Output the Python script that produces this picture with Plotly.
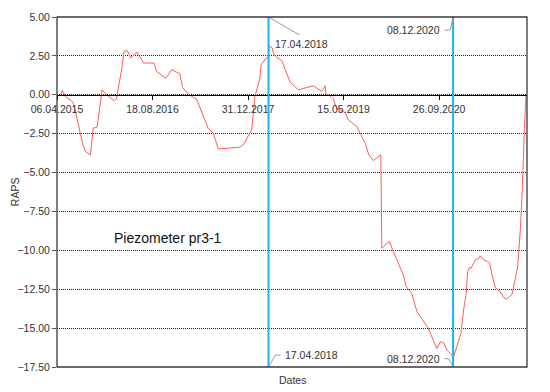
import plotly.graph_objects as go

# ---- data ----
dates = [
    "2015-04-25", "2015-05-04", "2015-05-25", "2015-06-26", "2015-07-03", "2015-08-03",
    "2015-08-20", "2015-09-03", "2015-09-28", "2015-10-12", "2015-11-02", "2015-11-28",
    "2015-12-21", "2016-02-02", "2016-02-11", "2016-03-09", "2016-03-22", "2016-04-09",
    "2016-04-26", "2016-05-29", "2016-07-03", "2016-07-26", "2016-08-26", "2016-09-08",
    "2016-10-27", "2016-11-26", "2017-01-08", "2017-01-22", "2017-02-12", "2017-02-26",
    "2017-04-06", "2017-05-02", "2017-06-05", "2017-07-02", "2017-07-28", "2017-11-19",
    "2017-12-06", "2018-01-19", "2018-02-05", "2018-03-03", "2018-03-09", "2018-04-07",
    "2018-04-16", "2018-04-21", "2018-05-07", "2018-05-12", "2018-06-02", "2018-06-25",
    "2018-08-08", "2018-09-20", "2018-12-08", "2019-01-21", "2019-02-07", "2019-02-11",
    "2019-03-11", "2019-03-23", "2019-04-09", "2019-05-23", "2019-06-09", "2019-07-23",
    "2019-08-10", "2019-09-05", "2019-09-24", "2019-10-18", "2019-11-26", "2019-12-01",
    "2019-12-18", "2020-01-10", "2020-01-31", "2020-02-26", "2020-03-23", "2020-04-07",
    "2020-05-06", "2020-06-02", "2020-07-06", "2020-08-01", "2020-08-19", "2020-09-14",
    "2020-10-02", "2020-10-19", "2020-11-06", "2020-12-02", "2020-12-08", "2021-01-18",
    "2021-02-01", "2021-02-15", "2021-02-22", "2021-03-04", "2021-03-12", "2021-04-03",
    "2021-04-21", "2021-04-30", "2021-05-14", "2021-06-17", "2021-06-30", "2021-07-17",
    "2021-08-12", "2021-08-30", "2021-09-16", "2021-10-13", "2021-10-30", "2021-11-11",
    "2021-11-25", "2021-12-04", "2021-12-16", "2021-12-25",
]
raps = [
    0.00, 0.28, -0.17, -0.43, -0.64, -2.36,
    -3.22, -3.65, -3.86, -2.15, -2.08, 0.32,
    0.00, -0.39, -0.28, 1.61, 2.79, 2.83,
    2.36, 2.75, 2.04, 2.04, 2.04, 1.50,
    1.07, 1.61, 1.35, 0.47, 0.21, 0.00,
    -0.28, -1.07, -2.15, -2.47, -3.48, -3.37,
    -3.22, -2.25, -0.11, 1.07, 1.93, 2.36,
    2.47, 3.15, 3.00, 2.68, 2.36, 2.21,
    0.82, 0.32, 0.58, 0.21, 0.58, 0.06,
    -0.11, -0.28, -0.92, -1.14, -1.61, -2.04,
    -2.47, -3.11, -3.86, -4.23, -3.86, -9.87,
    -9.66, -9.44, -10.09, -10.84, -11.59, -12.34,
    -12.77, -13.95, -14.60, -15.02, -15.56, -16.31,
    -15.88, -15.92, -16.42, -16.74, -16.95, -15.35,
    -13.84, -12.77, -11.38, -11.10, -11.16, -10.63,
    -10.52, -10.37, -10.58, -10.80, -11.59, -12.38,
    -12.67, -13.03, -13.14, -12.81, -11.80, -11.06,
    -8.69, -6.55, -2.25, 0.00,
]
x_tick_dates = ["2015-04-06", "2016-08-18", "2017-12-31", "2019-05-15", "2020-09-26"]
x_tick_labels = ["06.04.2015", "18.08.2016", "31.12.2017", "15.05.2019", "26.09.2020"]
x_range = ["2015-04-06", "2021-12-30"]
y_ticks = [5.0, 2.5, 0.0, -2.5, -5.0, -7.5, -10.0, -12.5, -15.0, -17.5]
y_range = [-17.5, 5.0]
event_dates = ["2018-04-17", "2020-12-08"]
event_labels = ["17.04.2018", "08.12.2020"]
series_name = "Piezometer pr3-1"
y_title = "RAPS"
x_title = "Dates"

FONT = "Liberation Sans"
TXT = "#333333"
LEAD = "#9a9a9a"
CYAN = "#1DB5EE"

fig = go.Figure()
fig.add_trace(go.Scatter(x=dates, y=raps, mode="lines",
                         line=dict(color="#FF5C5C", width=1),
                         name=series_name, showlegend=False))

shapes = []
annotations = []

# vertical event lines
for d in event_dates:
    shapes.append(dict(type="line", xref="x", yref="paper", x0=d, x1=d, y0=0, y1=1,
                       line=dict(color=CYAN, width=2), layer="above"))

# leader lines (pixel offsets from event line ends)
d1, d2 = event_dates
l1, l2 = event_labels
leaders = [
    (d1, y_range[1], "M0,0 L31,-18"),
    (d1, y_range[0], "M0,0 L7,12 L12,12"),
    (d2, y_range[1], "M0,0 L-2.7,-12.7 L-8.4,-13.4"),
    (d2, y_range[0], "M0,0 L-4.4,8.4 L-8.4,8.4"),
]
for d, yv, p in leaders:
    shapes.append(dict(type="path", xref="x", yref="y", xsizemode="pixel", ysizemode="pixel",
                       xanchor=d, yanchor=yv, path=p, line=dict(color=LEAD, width=1)))

labels = [
    (d1, y_range[1], l1, "center", 33, -26.7),
    (d1, y_range[0], l1, "left", 14.5, 11.7),
    (d2, y_range[1], l2, "right", -11, -13.4),
    (d2, y_range[0], l2, "right", -11, 7.6),
]
for d, yv, t, xa, xs, ys in labels:
    annotations.append(dict(x=d, y=yv, xref="x", yref="y", text=t, showarrow=False,
                            xanchor=xa, yanchor="middle", xshift=xs, yshift=ys,
                            font=dict(family=FONT, size=10.5, color=TXT)))

# plot frame
shapes.append(dict(type="rect", xref="paper", yref="paper", x0=0, x1=1, y0=0, y1=1,
                   line=dict(color="#3a3a3a", width=1.3), layer="above"))

# series label and axis titles
annotations.append(dict(x=0.237, y=0.369, xref="paper", yref="paper", text=series_name,
                        showarrow=False, xanchor="center", yanchor="middle",
                        font=dict(family=FONT, size=14, color="#111111")))
annotations.append(dict(x=0.5, y=-0.015, xref="paper", yref="paper", text=x_title,
                        showarrow=False, xanchor="center", yanchor="top",
                        font=dict(family=FONT, size=10.5, color=TXT)))
annotations.append(dict(x=-0.089, y=0.5, xref="paper", yref="paper", text=y_title,
                        showarrow=False, xanchor="center", yanchor="middle", textangle=-90,
                        font=dict(family=FONT, size=10.5, color=TXT)))

zero_pos = (0 - y_range[0]) / (y_range[1] - y_range[0])

# the page body adds an 8px offset; margins compensate so the plot box lands where the reference has it
fig.update_layout(
    width=550, height=392,
    margin=dict(l=49, r=31, t=9, b=33, autoexpand=False),
    paper_bgcolor="white", plot_bgcolor="white",
    font=dict(family=FONT, size=10.5, color=TXT),
    shapes=shapes, annotations=annotations,
    xaxis=dict(type="date", range=x_range, tickvals=x_tick_dates, ticktext=x_tick_labels,
               showgrid=False, zeroline=False, showline=True, linecolor="black", linewidth=1.3,
               ticks="outside", ticklen=4, tickcolor="black", anchor="free", position=zero_pos,
               automargin=False,
               tickfont=dict(family=FONT, size=10.5, color=TXT)),
    yaxis=dict(range=y_range, tickvals=y_ticks, tickformat=".2f", automargin=False,
               showgrid=True, gridcolor="#222222", griddash="1px,1px", gridwidth=1,
               zeroline=False, showline=False, ticks="outside", ticklen=4, tickcolor="#555555",
               tickfont=dict(family=FONT, size=10.5, color=TXT)),
)

fig.write_html("out.html")
